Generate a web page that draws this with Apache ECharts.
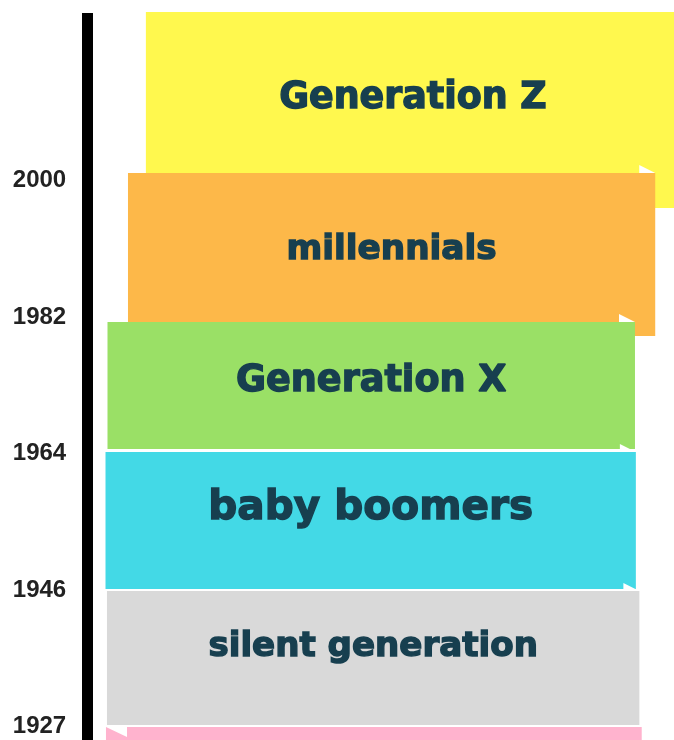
<!DOCTYPE html>
<html>
<head>
<meta charset="utf-8">
<script src="https://cdn.jsdelivr.net/npm/echarts@6/dist/echarts.min.js"></script>
<style>
    html, body { margin: 0; padding: 0; background: #fff; }
    #charts1 { width: 674px; height: 740px; }
</style>
</head>
<body>
<div id="charts1"></div>
<script>
// generations, top to bottom
var genNames = ['Generation Z', 'millennials', 'Generation X', 'baby boomers', 'silent generation', ''];
// boundary years shown on the timeline (slot 0..4)
var boundaryYears = ['2000', '1982', '1964', '1946', '1927'];
// span of each band on the timeline, in slot units
var spanStart = [-1.234, -0.055, 1.037, 1.989, 3.007, 4.004];
var spanEnd = [0.201, 1.139, 1.967, 2.993, 3.989, 4.6];
// horizontal extent of each band (percent of the plot width)
var bandFrom = [10.0, 6.95, 3.46, 3.12, 3.37, 3.2];
var bandTo = [101, 96.8, 93.35, 93.5, 94.1, 94.5];
// where the name sits on the timeline
var labelAt = [-0.6, 0.512, 1.474, 2.4, 3.42, 0];

var bandColors = ['#fff84e', '#fdb849', '#9ae066', '#43d9e6', '#d9d9d9', '#ffb3ce'];
var labelSizes = [36.4, 34.3, 36.6, 40.6, 34.1, 0];
var folds = ['', 'right', 'right', 'right', 'right', 'left'];

(function () {
    var myChart = echarts.init(document.getElementById('charts1'));

    var data = genNames.map(function (n, i) {
        return [bandFrom[i], bandTo[i], spanStart[i], spanEnd[i], labelAt[i]];
    });

    function renderBand(params, api) {
        var i = params.dataIndex;
        var p0 = api.coord([api.value(0), api.value(2)]);
        var p1 = api.coord([api.value(1), api.value(3)]);
        var w = p1[0] - p0[0];
        var h = p1[1] - p0[1];
        var kids = [];
        // little folded corner above the band
        if (folds[i] == 'right') {
            kids.push({
                type: 'polygon',
                shape: { points: [[p1[0] - 16, p0[1] - 8], [p1[0] - 16, p0[1]], [p1[0], p0[1]]] },
                style: { fill: '#fff' }
            });
        }
        kids.push({
            type: 'rect',
            shape: { x: p0[0], y: p0[1], width: w, height: h },
            style: { fill: bandColors[i] }
        });
        if (folds[i] == 'left') {
            kids.push({
                type: 'polygon',
                shape: { points: [[p0[0], p0[1]], [p0[0] + 21, p0[1]], [p0[0] + 21, p0[1] + 10]] },
                style: { fill: '#fff' }
            });
        }
        if (genNames[i]) {
            var ly = api.coord([0, api.value(4)])[1];
            kids.push({
                type: 'text',
                style: {
                    x: p0[0] + w / 2,
                    y: ly,
                    text: genNames[i],
                    fill: '#173f4f',
                    stroke: '#173f4f',
                    lineWidth: 1.4,
                    font: 'bold ' + labelSizes[i] + 'px "DejaVu Sans"',
                    align: 'center',
                    verticalAlign: 'middle'
                }
            });
        }
        return { type: 'group', children: kids };
    }

    var option = {
        animation: false,
        backgroundColor: '#fff',
        grid: {
            left: 87.2,
            right: 0,
            top: 13,
            bottom: 0,
            outerBoundsMode: 'none'
        },
        xAxis: {
            type: 'value',
            min: 0,
            max: 100,
            show: false
        },
        yAxis: {
            type: 'value',
            inverse: true,
            min: -1.227,
            max: 4.099,
            axisLine: { show: true, lineStyle: { color: '#000', width: 11, cap: 'butt' } },
            axisTick: { show: false },
            splitLine: { show: false },
            axisLabel: {
                customValues: [0, 1, 2, 3, 4],
                formatter: function (v) { return boundaryYears[Math.round(v)]; },
                margin: 21,
                color: '#222',
                fontFamily: 'Liberation Sans',
                fontWeight: 'bold',
                fontSize: 24
            }
        },
        series: [{
            type: 'custom',
            renderItem: renderBand,
            encode: { x: [0, 1], y: [2, 3] },
            data: data
        }]
    };

    myChart.setOption(option);
})();
</script>
</body>
</html>
